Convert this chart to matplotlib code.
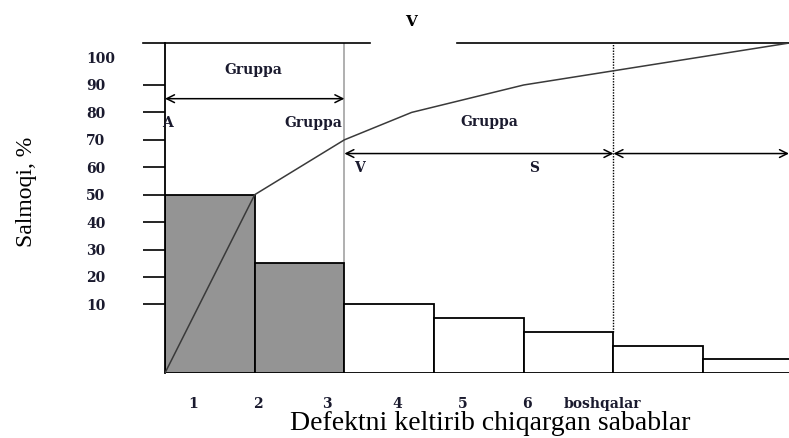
import matplotlib.pyplot as plt

# Pareto diagram (schematic) - bars
bar_pos = [0.5, 1.5, 2.5, 3.5, 4.5, 5.5, 6.5]
bar_height = [65, 40, 25, 20, 15, 10, 5]
bar_base = -15
bar_color = ["#949494", "#949494", "white", "white", "white", "white", "white"]

# cumulative line
cum_x = [0, 1, 2, 2.75, 4, 7]
cum_y = [-15, 50, 70, 80, 90, 105.5]

y_ticks = [10, 20, 30, 40, 50, 60, 70, 80, 90, 100]
x_tick_pos = [0.31, 1.04, 1.81, 2.59, 3.32, 4.04, 4.88]
x_tick_labels = ["1", "2", "3", "4", "5", "6", "boshqalar"]

serif = ["Liberation Serif", "DejaVu Serif"]
small = dict(family="DejaVu Serif", fontsize=10, weight="bold", color="#1a1a2e")

fig = plt.figure(figsize=(7.89, 4.38), dpi=100)
ax = fig.add_axes([165 / 789, 65 / 438, 624 / 789, 330 / 438])

ax.bar(bar_pos, bar_height, width=1, bottom=bar_base, color=bar_color,
       edgecolor="black", linewidth=1.3, zorder=2)
ax.plot(cum_x, cum_y, color="#3a3a3a", lw=1.1, zorder=3)

ax.set_xlim(0, 6.957)
ax.set_ylim(-15, 105.3)

# top line with a gap for the title
ax.plot([-0.245, 2.285], [105.3, 105.3], color="black", lw=1.2, clip_on=False)
ax.plot([3.255, 6.957], [105.3, 105.3], color="black", lw=1.2, clip_on=False)
ax.text(2.74, 113, "V", ha="center", va="center", family="DejaVu Serif",
        fontsize=11, weight="bold", clip_on=False)

# group borders
ax.plot([2, 2], [25, 105.3], color="#9a9a9a", lw=1.1, zorder=1)
ax.plot([5, 5], [0, 105.3], color="black", lw=1.0, ls=(0, (1, 1)), zorder=1)

# group arrows
arr = dict(arrowstyle="<->", lw=1.1, color="black", shrinkA=0, shrinkB=0,
           mutation_scale=14)
ax.annotate("", xy=(0, 85), xytext=(2, 85), arrowprops=arr)
ax.annotate("", xy=(2, 65), xytext=(5, 65), arrowprops=arr)
ax.annotate("", xy=(5, 65), xytext=(6.957, 65), arrowprops=arr, annotation_clip=False)

ax.text(0.99, 95.5, "Gruppa", ha="center", va="center", **small)
ax.text(1.65, 76, "Gruppa", ha="center", va="center", **small)
ax.text(3.62, 76.5, "Gruppa", ha="center", va="center", **small)
ax.text(0.03, 76, "A", ha="center", va="center", **small)
ax.text(2.17, 59.7, "V", ha="center", va="center", **small)
ax.text(4.12, 59.7, "S", ha="center", va="center", **small)

# axes
for s in ["top", "right", "bottom"]:
    ax.spines[s].set_visible(False)
ax.spines["left"].set_linewidth(1.3)

ax.set_yticks(y_ticks)
ax.set_yticklabels([str(v) for v in y_ticks], ha="left", **small)
ax.tick_params(axis="y", length=15.8, width=1.2, direction="out", pad=41)
ax.yaxis.get_major_ticks()[-1].tick1line.set_visible(False)

ax.set_xticks(x_tick_pos)
ax.set_xticklabels(x_tick_labels, **small)
ax.tick_params(axis="x", length=0, pad=17)

ax.set_ylabel("Salmoqi, %", family=serif, fontsize=17)
ax.yaxis.set_label_coords(-0.205, 0.548)
ax.set_xlabel("Defektni keltirib chiqargan sabablar", family=serif, fontsize=20)
ax.xaxis.set_label_coords(0.521, -0.115)

fig.savefig("out.png", dpi=100)
